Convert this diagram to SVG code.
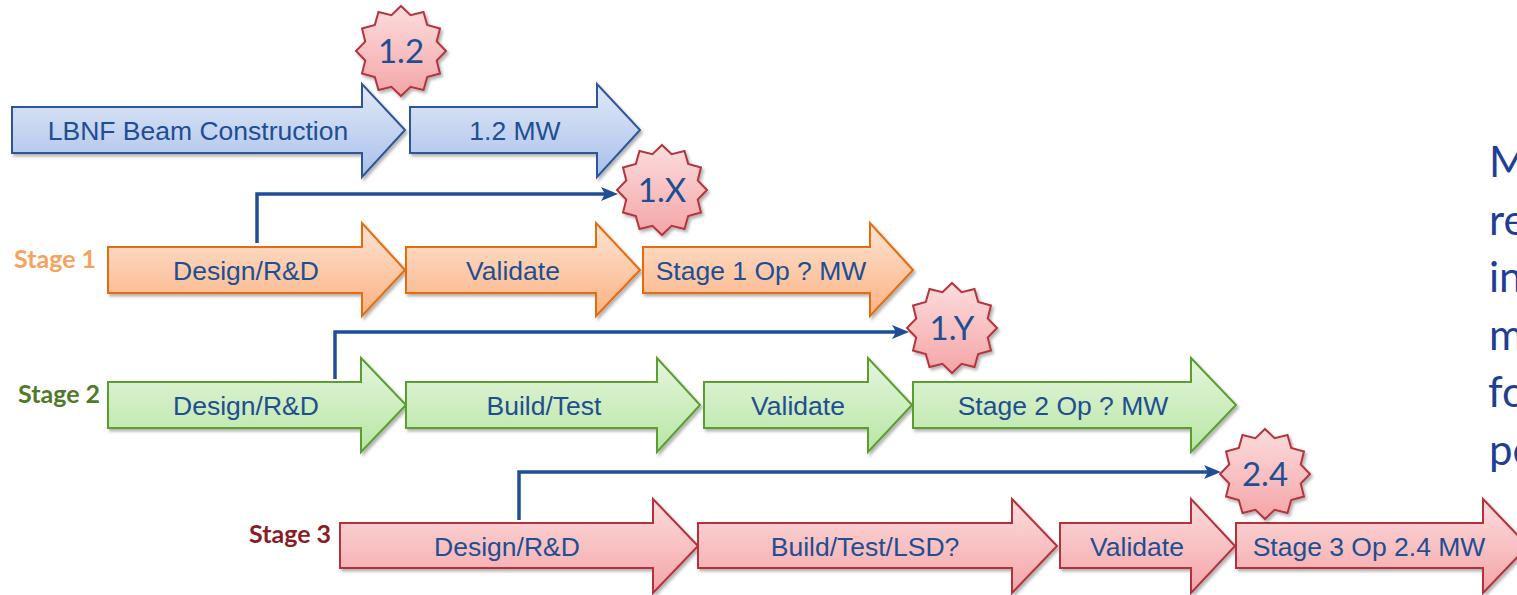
<svg xmlns="http://www.w3.org/2000/svg" xmlns:xlink="http://www.w3.org/1999/xlink" width="1517" height="595" viewBox="0 0 1517 595">
<defs>
<linearGradient id="gBlue" x1="0" y1="0" x2="0" y2="1"><stop offset="0" stop-color="#e1e9f8"/><stop offset="1" stop-color="#a9c0ea"/></linearGradient>
<linearGradient id="gOrange" x1="0" y1="0" x2="0" y2="1"><stop offset="0" stop-color="#fde4d3"/><stop offset="1" stop-color="#fbb283"/></linearGradient>
<linearGradient id="gGreen" x1="0" y1="0" x2="0" y2="1"><stop offset="0" stop-color="#e5f5dd"/><stop offset="1" stop-color="#b8e6a4"/></linearGradient>
<linearGradient id="gRed" x1="0" y1="0" x2="0" y2="1"><stop offset="0" stop-color="#fcdcdd"/><stop offset="1" stop-color="#f4a5a8"/></linearGradient>
<filter id="sh" x="-5%" y="-10%" width="115%" height="130%"><feDropShadow dx="2" dy="2.5" stdDeviation="1.5" flood-color="#000" flood-opacity="0.3"/></filter>
<polygon id="seal" points="0,-45 9.58,-35.74 22.5,-38.97 26.16,-26.16 38.97,-22.5 35.74,-9.58 45,0 35.74,9.58 38.97,22.5 26.16,26.16 22.5,38.97 9.58,35.74 0,45 -9.58,35.74 -22.5,38.97 -26.16,26.16 -38.97,22.5 -35.74,9.58 -45,0 -35.74,-9.58 -38.97,-22.5 -26.16,-26.16 -22.5,-38.97 -9.58,-35.74"/>
<marker id="ah" markerUnits="userSpaceOnUse" markerWidth="18" markerHeight="16" refX="6" refY="7" orient="auto" viewBox="0 0 18 14">
<path d="M0,0 L17,7 L0,14 L4,7 Z" fill="#1f4e96"/>
</marker>
</defs>
<style>
.blue{fill:url(#gBlue);stroke:#2f5597;stroke-width:2;filter:url(#sh)}
.orange{fill:url(#gOrange);stroke:#e46c0a;stroke-width:2;filter:url(#sh)}
.green{fill:url(#gGreen);stroke:#5a9e2f;stroke-width:2;filter:url(#sh)}
.red{fill:url(#gRed);stroke:#b3333b;stroke-width:2;filter:url(#sh)}
.seal{fill:url(#gRed);stroke:#b3343c;stroke-width:2;filter:url(#sh)}
.lbl{font-family:"Liberation Sans",Arial,sans-serif;font-size:26.5px;fill:#1f4e91;text-anchor:middle}
.num{font-family:Lato,"Open Sans",sans-serif;font-size:33px;fill:#1f4e91;text-anchor:middle}
.stage{font-family:Lato,"Open Sans",sans-serif;font-size:25px;font-weight:bold}
.side{font-family:Lato,"Open Sans",sans-serif;font-size:42px;fill:#1f3f96}
.conn{fill:none;stroke:#1f4e96;stroke-width:3.5}
</style>

<g id="connectors">
<path class="conn" d="M257,243 V194 H607" marker-end="url(#ah)"/>
<path class="conn" d="M335,379 V332 H898" marker-end="url(#ah)"/>
<path class="conn" d="M519,520 V472 H1210" marker-end="url(#ah)"/>
</g>

<g id="lbnf">
<path class="blue" d="M12,107 H362 V84 L405,130 L362,177 V153 H12 Z"/>
<text class="lbl" x="198" y="140">LBNF Beam Construction</text>
</g>
<g id="mw12">
<path class="blue" d="M410,107 H597 V84 L640,130 L597,177 V153 H410 Z"/>
<text class="lbl" x="515" y="140">1.2 MW</text>
</g>
<g id="badge12">
<use href="#seal" class="seal" transform="translate(401,51)"/>
<text class="num" x="401" y="63">1.2</text>
</g>

<g id="stage1-label"><text class="stage" x="14" y="268" fill="#f5a25d">Stage 1</text></g>
<g id="s1-design">
<path class="orange" d="M108,247 H362 V223 L405,270 L362,316 V293 H108 Z"/>
<text class="lbl" x="246" y="280">Design/R&amp;D</text>
</g>
<g id="s1-validate">
<path class="orange" d="M406,247 H596 V223 L640,270 L596,316 V293 H406 Z"/>
<text class="lbl" x="513" y="280">Validate</text>
</g>
<g id="s1-op">
<path class="orange" d="M643,247 H870 V223 L913,270 L870,316 V293 H643 Z"/>
<text class="lbl" x="761" y="280">Stage 1 Op ? MW</text>
</g>
<g id="badge1x">
<use href="#seal" class="seal" transform="translate(662,190)"/>
<text class="num" x="662" y="202">1.X</text>
</g>

<g id="stage2-label"><text class="stage" x="18" y="403" fill="#4f7a28">Stage 2</text></g>
<g id="s2-design">
<path class="green" d="M108,382 H361 V358 L406,405 L361,452 V428 H108 Z"/>
<text class="lbl" x="246" y="415">Design/R&amp;D</text>
</g>
<g id="s2-build">
<path class="green" d="M406,382 H657 V358 L700,405 L657,452 V428 H406 Z"/>
<text class="lbl" x="544" y="415">Build/Test</text>
</g>
<g id="s2-validate">
<path class="green" d="M704,382 H868 V358 L912,405 L868,452 V428 H704 Z"/>
<text class="lbl" x="798" y="415">Validate</text>
</g>
<g id="s2-op">
<path class="green" d="M913,382 H1191 V358 L1236,405 L1191,452 V428 H913 Z"/>
<text class="lbl" x="1063" y="415">Stage 2 Op ? MW</text>
</g>
<g id="badge1y">
<use href="#seal" class="seal" transform="translate(952,328)"/>
<text class="num" x="952" y="340">1.Y</text>
</g>

<g id="stage3-label"><text class="stage" x="249" y="543" fill="#8b1c26">Stage 3</text></g>
<g id="s3-design">
<path class="red" d="M340,523 H653 V499 L698,546 L653,593 V568 H340 Z"/>
<text class="lbl" x="507" y="556">Design/R&amp;D</text>
</g>
<g id="s3-build">
<path class="red" d="M698,523 H1012 V499 L1057,546 L1012,593 V568 H698 Z"/>
<text class="lbl" x="865" y="556">Build/Test/LSD?</text>
</g>
<g id="s3-validate">
<path class="red" d="M1060,523 H1191 V499 L1235,546 L1191,593 V568 H1060 Z"/>
<text class="lbl" x="1137" y="556">Validate</text>
</g>
<g id="s3-op">
<path class="red" d="M1236,523 H1483 V499 L1528,546 L1483,593 V568 H1236 Z"/>
<text class="lbl" x="1369" y="556">Stage 3 Op 2.4 MW</text>
</g>
<g id="badge24">
<use href="#seal" class="seal" transform="translate(1265,474)"/>
<text class="num" x="1265" y="486">2.4</text>
</g>

<g id="side-text">
<text class="side" x="1489" y="177">M</text>
<text class="side" x="1489" y="234.5">re</text>
<text class="side" x="1489" y="292">in</text>
<text class="side" x="1489" y="349.5">m</text>
<text class="side" x="1488" y="407">fo</text>
<text class="side" x="1489" y="464.5">pe</text>
</g>
</svg>
